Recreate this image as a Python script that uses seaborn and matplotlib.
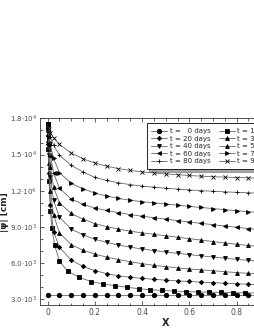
import numpy as np
import pandas as pd
import matplotlib
matplotlib.use('Agg')
import matplotlib.pyplot as plt
import seaborn as sns
from matplotlib.ticker import FuncFormatter, MultipleLocator

# -------------------------------
# Data
# -------------------------------
x_main = [0, 0.002, 0.006, 0.012, 0.025, 0.05, 0.1, 0.15, 0.2, 0.25, 0.3, 0.35, 0.4,
          0.45, 0.5, 0.55, 0.6, 0.65, 0.7, 0.75, 0.8, 0.85, 0.9, 0.95, 1.0]
x_10 = [0, 0.002, 0.006, 0.012, 0.018, 0.03, 0.05, 0.085, 0.135, 0.185, 0.235, 0.285,
        0.335, 0.385, 0.435, 0.485, 0.535, 0.585, 0.635, 0.685, 0.735, 0.785, 0.835,
        0.885, 0.935, 0.985]
x_0 = [0, 0.05, 0.1, 0.15, 0.2, 0.25, 0.3, 0.35, 0.4, 0.45, 0.5, 0.55, 0.6, 0.65,
       0.7, 0.75, 0.8, 0.85, 0.9, 0.95, 1.0]

psi_0 = [3300] * 21
psi_10 = [17500, 15500, 12800, 10300, 8900, 7450, 6150, 5300, 4780, 4440, 4240, 4100,
          3970, 3850, 3760, 3700, 3650, 3610, 3580, 3560, 3540, 3520, 3505, 3490, 3480, 3470]
psi_20 = [17500, 15900, 13500, 10800, 8600, 7300, 6220, 5700, 5350, 5100, 4920, 4800, 4710,
          4630, 4560, 4500, 4450, 4400, 4350, 4300, 4255, 4215, 4185, 4160, 4140]
psi_30 = [17500, 16200, 14300, 12000, 10000, 8500, 7500, 7050, 6720, 6480, 6270, 6090, 5930,
          5790, 5680, 5580, 5490, 5410, 5340, 5260, 5190, 5120, 5070, 5030, 5000]
psi_40 = [17500, 16500, 15000, 13100, 11200, 9800, 8800, 8330, 7960, 7700, 7480, 7300, 7150,
          7020, 6900, 6790, 6680, 6580, 6480, 6380, 6290, 6200, 6130, 6070, 6020]
psi_50 = [17500, 16700, 15500, 14000, 12300, 11000, 10100, 9630, 9250, 9010, 8800, 8630, 8490,
          8370, 8250, 8130, 8010, 7890, 7770, 7650, 7540, 7440, 7350, 7270, 7200]
psi_60 = [17500, 16900, 16000, 14900, 13500, 12200, 11300, 10870, 10550, 10350, 10170, 10010,
          9870, 9750, 9630, 9510, 9390, 9280, 9170, 9060, 8950, 8850, 8760, 8680, 8610]
psi_70 = [17500, 17100, 16500, 15800, 14700, 13500, 12600, 12150, 11800, 11550, 11350, 11200,
          11080, 10990, 10890, 10790, 10690, 10600, 10510, 10420, 10330, 10250, 10180, 10120, 10070]
psi_80 = [17500, 17250, 16900, 16450, 15800, 14950, 14100, 13550, 13100, 12850, 12650, 12500,
          12380, 12290, 12200, 12130, 12060, 12000, 11950, 11900, 11860, 11820, 11790, 11760, 11740]
psi_90 = [17500, 17350, 17100, 16800, 16400, 15850, 15120, 14650, 14300, 14030, 13830, 13680,
          13560, 13470, 13390, 13320, 13260, 13200, 13160, 13120, 13090, 13060, 13040, 13020, 13000]

days = [0, 10, 20, 30, 40, 50, 60, 70, 80, 90]
series_x = [x_0, x_10, x_main, x_main, x_main, x_main, x_main, x_main, x_main, x_main]
series_y = [psi_0, psi_10, psi_20, psi_30, psi_40, psi_50, psi_60, psi_70, psi_80, psi_90]
markers = ['o', 's', 'D', '^', 'v', '^', '<', '>', '+', 'x']
msizes = [3.2, 3.2, 2.2, 2.8, 2.8, 2.8, 2.8, 2.8, 3.5, 3.0]

# -------------------------------
# Plot
# -------------------------------
sns.set_style('ticks')
plt.rcParams['font.family'] = ['DejaVu Sans']

fig = plt.figure(figsize=(2.55, 3.30), dpi=100)
ax = fig.add_axes([0.157, 0.076, 0.986, 0.565])

handles = {}
for d, xs, ys, m, ms in zip(days, series_x, series_y, markers, msizes):
    lab = 't =   0 days' if d == 0 else f't = {d} days'
    sns.lineplot(x=xs, y=ys, ax=ax, color='0.4', linewidth=0.6, marker=m,
                 markersize=ms, markerfacecolor='black', markeredgecolor='black',
                 markeredgewidth=0.6, label=lab, legend=False)
    handles[d] = (ax.lines[-1], lab)

ax.set_xlim(-0.032, 1.032)
ax.set_ylim(2500, 18000)
ax.xaxis.set_major_locator(MultipleLocator(0.2))
ax.xaxis.set_minor_locator(MultipleLocator(0.05))
ax.yaxis.set_major_locator(MultipleLocator(3000))
ax.yaxis.set_minor_locator(MultipleLocator(1000))


def sci_fmt(v, pos):
    if v <= 0:
        return ''
    e = int(np.floor(np.log10(v)))
    return r'$%.1f{\cdot}10^{%d}$' % (v / 10 ** e, e)


ax.yaxis.set_major_formatter(FuncFormatter(sci_fmt))
ax.xaxis.set_major_formatter(FuncFormatter(lambda v, p: '0' if abs(v) < 1e-9 else f'{v:.1f}'))
ax.tick_params(which='both', direction='in', top=True, right=True, width=0.5,
               labelcolor='0.3', pad=2)
ax.tick_params(axis='x', labelsize=5.5)
ax.tick_params(axis='y', labelsize=5.0)
ax.tick_params(which='major', length=3)
ax.tick_params(which='minor', length=1.8)
for s in ax.spines.values():
    s.set_linewidth(0.6)
    s.set_color('0.2')

ax.set_xlabel('X', fontsize=7, fontweight='bold', labelpad=1)
ax.set_ylabel('|ψ| [cm]', fontsize=6.5, fontweight='bold')
ax.yaxis.set_label_coords(-0.125, 0.5)

order = [0, 20, 40, 60, 80, 10, 30, 50, 70, 90]
leg = ax.legend([handles[d][0] for d in order], [handles[d][1] for d in order],
                ncol=2, fontsize=5, loc='upper left', bbox_to_anchor=(0.41, 0.992),
                frameon=True, fancybox=False, shadow=True, edgecolor='black',
                handlelength=2.3, handletextpad=0.4, columnspacing=1.1,
                labelspacing=0.22, borderpad=0.7)
leg.get_frame().set_linewidth(0.6)

fig.savefig('out.png', dpi=100)
